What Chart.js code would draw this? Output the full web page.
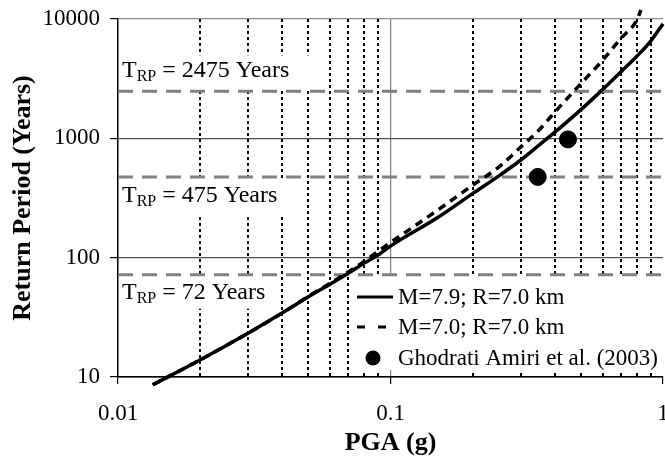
<!DOCTYPE html>
<html>
<head>
<meta charset="utf-8">
<script src="https://cdn.jsdelivr.net/npm/chart.js@4/dist/chart.umd.min.js"></script>
<style>
  body { margin: 0; background: #fff; }
</style>
</head>
<body>
<canvas id="hazardChart" width="665" height="457"></canvas>
<script>
// hazard curve, M=7.9 R=7.0 km
var pgaM79 = [0.0134, 0.02, 0.03, 0.04, 0.05, 0.06, 0.07, 0.08, 0.09, 0.1, 0.15, 0.2, 0.25, 0.3, 0.35, 0.4, 0.5, 0.6, 0.7, 0.8, 0.9, 1.0];
var rpM79 = [8.6, 13.9, 23.3, 34.3, 47, 60, 74, 90, 105, 125, 219, 344, 485, 655, 873, 1120, 1740, 2560, 3600, 4850, 6500, 9100];

// hazard curve, M=7.0 R=7.0 km
var pgaM70 = [0.0134, 0.02, 0.03, 0.04, 0.05, 0.06, 0.07, 0.08, 0.09, 0.1, 0.15, 0.2, 0.25, 0.3, 0.35, 0.4, 0.5, 0.6, 0.7, 0.8, 0.83];
var rpM70 = [8.6, 13.9, 23.3, 34.3, 47.5, 61, 76, 93, 113, 134, 253, 404, 576, 841, 1167, 1650, 2880, 4500, 6870, 9700, 11900];

// Ghodrati Amiri et al. (2003)
var pgaAmiri = [0.347, 0.448];
var rpAmiri = [475, 980];

// design return periods
var rpLevels = [2475, 475, 72];

var xTicks = [0.01, 0.1, 1];
var xMinor = [0.02, 0.03, 0.04, 0.05, 0.06, 0.07, 0.08, 0.09, 0.2, 0.3, 0.4, 0.5, 0.6, 0.7, 0.8, 0.9];
var yTicks = [10, 100, 1000, 10000];

var seriesNames = ['M=7.9; R=7.0 km', 'M=7.0; R=7.0 km', 'Ghodrati Amiri et al. (2003)'];

var SERIF = '"Liberation Serif", "Times New Roman", serif';

function pts(xs, ys) {
  return xs.map(function(x, i) { return {x: x, y: ys[i]}; });
}

function drawTrp(ctx, x, y, years) {
  ctx.font = '24px ' + SERIF;
  ctx.fillText('T', x, y);
  var w = ctx.measureText('T').width;
  ctx.font = '16px ' + SERIF;
  ctx.fillText('RP', x + w, y + 4);
  w += ctx.measureText('RP').width;
  ctx.font = '24px ' + SERIF;
  ctx.fillText(' = ' + years + ' Years', x + w, y);
}

function noPad(s) {
  s.paddingLeft = 0;
  s.paddingRight = 0;
  s.paddingTop = 0;
  s.paddingBottom = 0;
}

var overlays = {
  id: 'overlays',
  beforeDatasetsDraw: function(chart) {
    var ctx = chart.ctx, xs = chart.scales.x, ys = chart.scales.y, a = chart.chartArea;
    ctx.save();

    // dotted minor grid
    ctx.strokeStyle = '#000';
    ctx.lineWidth = 2;
    ctx.setLineDash([3, 3]);
    xMinor.forEach(function(v) {
      var px = Math.round(xs.getPixelForValue(v));
      ctx.beginPath();
      ctx.moveTo(px, a.top);
      ctx.lineTo(px, a.bottom);
      ctx.stroke();
    });
    ctx.setLineDash([]);

    // white boxes behind the labels
    var boxes = [
      {dy: -36, h: 34, w: 197, base: -14},
      {dy: 2, h: 36, w: 175, base: 25},
      {dy: 2, h: 32, w: 155, base: 24}
    ];
    ctx.fillStyle = '#fff';
    rpLevels.forEach(function(lv, i) {
      var ly = ys.getPixelForValue(lv);
      ctx.fillRect(a.left + 1, ly + boxes[i].dy, boxes[i].w, boxes[i].h);
    });
    ctx.fillRect(a.right - 308, a.bottom - 101, 308, 94);

    ctx.fillStyle = '#000';
    ctx.textBaseline = 'alphabetic';
    ctx.textAlign = 'left';
    rpLevels.forEach(function(lv, i) {
      var ly = ys.getPixelForValue(lv);
      drawTrp(ctx, a.left + 4, ly + boxes[i].base, lv);
    });

    // legend inside the plot
    var ds = chart.data.datasets;
    var lx = a.right - 306;
    var rows = [a.bottom - 73, a.bottom - 43, a.bottom - 12];
    for (var i = 0; i < 3; i++) {
      var cy = rows[i] - 7;
      ctx.strokeStyle = '#000';
      ctx.fillStyle = '#000';
      if (i < 2) {
        ctx.lineWidth = 3;
        ctx.setLineDash(i === 1 ? [8, 13] : []);
        ctx.beginPath();
        ctx.moveTo(lx, cy);
        ctx.lineTo(lx + 36, cy);
        ctx.stroke();
        ctx.setLineDash([]);
      } else {
        ctx.beginPath();
        ctx.arc(lx + 16, cy, 7.5, 0, Math.PI * 2);
        ctx.fill();
      }
      ctx.font = '23px ' + SERIF;
      ctx.fillText(ds[i].label, lx + 41, rows[i]);
    }
    ctx.restore();
  }
};

var refSets = rpLevels.map(function(lv) {
  return {
    label: 'T' + lv,
    data: [{x: 0.01, y: lv}, {x: 1, y: lv}],
    borderColor: '#808080',
    borderWidth: 3,
    borderDash: [15, 9],
    pointRadius: 0,
    order: 5
  };
});

var ctx = document.getElementById('hazardChart').getContext('2d');
var chart = new Chart(ctx, {
  type: 'line',
  data: {
    datasets: [{
      label: seriesNames[0],
      data: pts(pgaM79, rpM79),
      borderColor: '#000',
      borderWidth: 3.5,
      pointRadius: 0,
      cubicInterpolationMode: 'monotone',
      clip: false,
      order: 1
    }, {
      label: seriesNames[1],
      data: pts(pgaM70, rpM70),
      borderColor: '#000',
      borderWidth: 3.5,
      borderDash: [8, 6],
      pointRadius: 0,
      cubicInterpolationMode: 'monotone',
      clip: false,
      order: 1
    }, {
      type: 'scatter',
      label: seriesNames[2],
      data: pts(pgaAmiri, rpAmiri),
      backgroundColor: '#000',
      borderColor: '#000',
      pointRadius: 8.5,
      showLine: false,
      order: 0
    }].concat(refSets)
  },
  options: {
    responsive: false,
    animation: false,
    devicePixelRatio: 1,
    layout: { autoPadding: false, padding: {top: 19, right: 2, left: 0, bottom: 0} },
    plugins: {
      legend: { display: false },
      tooltip: { enabled: false }
    },
    scales: {
      x: {
        type: 'logarithmic',
        min: 0.01,
        max: 1,
        afterBuildTicks: function(s) { s.ticks = xTicks.map(function(v) { return {value: v}; }); },
        afterFit: function(s) { s.height = 80; noPad(s); },
        ticks: {
          font: {family: SERIF, size: 23},
          color: '#000',
          padding: 16,
          maxRotation: 0,
          autoSkip: false,
          callback: function(v) { return String(v); }
        },
        grid: {
          color: function(c) { return c.tick && c.tick.value === 0.1 ? '#808080' : 'rgba(0,0,0,0)'; },
          lineWidth: 1.2,
          tickLength: 7,
          tickColor: '#000',
          tickWidth: 1.2
        },
        border: { color: '#000', width: 1.5 },
        title: {
          display: true,
          text: 'PGA (g)',
          color: '#000',
          font: {family: SERIF, size: 26, weight: 'bold'},
          padding: {top: 0, bottom: -2}
        }
      },
      y: {
        type: 'logarithmic',
        min: 10,
        max: 10000,
        afterBuildTicks: function(s) { s.ticks = yTicks.map(function(v) { return {value: v}; }); },
        afterFit: function(s) { s.width = 118; noPad(s); },
        ticks: {
          font: {family: SERIF, size: 23},
          color: '#000',
          padding: 10,
          callback: function(v) { return String(v); }
        },
        grid: {
          color: function(c) {
            var v = c.tick && c.tick.value;
            if (v === 10) return '#000';
            if (v === 10000) return '#909090';
            return '#505050';
          },
          lineWidth: 1.2,
          tickLength: 8,
          tickColor: '#000',
          tickWidth: 1.2
        },
        border: { color: '#000', width: 1.5 },
        title: {
          display: true,
          text: 'Return Period (Years)',
          color: '#000',
          font: {family: SERIF, size: 26, weight: 'bold'},
          padding: {top: 8, bottom: 0}
        }
      }
    }
  },
  plugins: [overlays]
});
</script>
</body>
</html>
